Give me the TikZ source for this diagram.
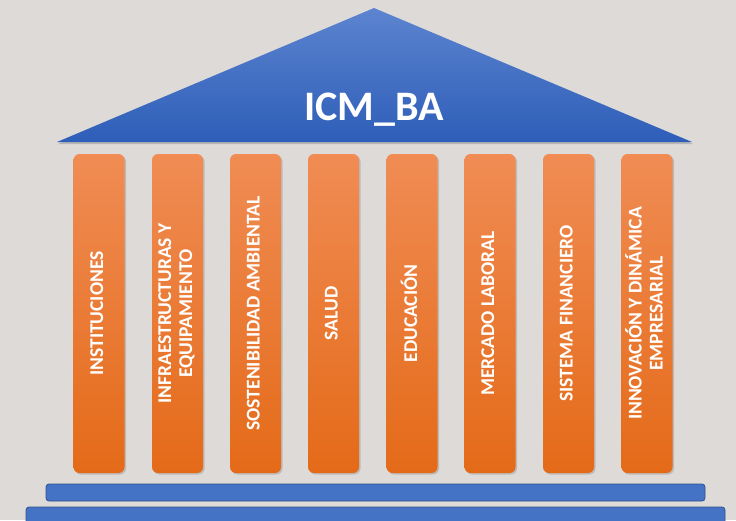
\documentclass[tikz,border=0pt]{standalone}
\usepackage{fontspec}
\setmainfont{Carlito}
\usetikzlibrary{shadows}

\definecolor{bgGrey}{RGB}{222,218,215}
\definecolor{roofTop}{RGB}{92,132,208}
\definecolor{roofBot}{RGB}{46,94,184}
\definecolor{pillarTop}{RGB}{240,140,84}
\definecolor{pillarBot}{RGB}{228,106,24}
\definecolor{baseBlue}{RGB}{68,114,196}
\definecolor{baseEdge}{RGB}{47,82,143}

\newcommand{\pillarlabel}[1]{\rotatebox{90}{\begin{tabular}{@{}c@{}}#1\end{tabular}}}

\begin{document}
\begin{tikzpicture}[x=1pt,y=-1pt,
	pillar/.style={rounded corners=6pt, top color=pillarTop, bottom color=pillarBot,
		minimum width=51pt, minimum height=319pt, inner sep=0pt, text=white,
		font=\bfseries\fontsize{19.5}{21}\selectfont,
		drop shadow={shadow xshift=1.5pt, shadow yshift=-1.5pt, opacity=0.35}},
	slab/.style={rounded corners=3pt, fill=baseBlue, draw=baseEdge, line width=0.8pt}]
		\useasboundingbox (0,0) rectangle (736,520);
		\clip (0,0) rectangle (736,520);
		\fill[bgGrey] (0,0) rectangle (736,520);
		
		%Roof
		\coordinate (apex) at (374,8);
		\coordinate (eaveL) at (57,142);
		\coordinate (eaveR) at (692,142);
		\shade[top color=roofTop, bottom color=roofBot,
			drop shadow={shadow xshift=1pt, shadow yshift=-2pt, opacity=0.4}]
			(apex) -- (eaveR) -- (eaveL) -- cycle;
		\node[text=white, font=\bfseries\fontsize{42}{50}\selectfont] (title) at (374,110) {ICM\_BA};
		
		%Pillars
		\node[pillar] (p1) at (99,313.5) {\pillarlabel{INSTITUCIONES}};
		\node[pillar] (p2) at (177.5,313.5) {\pillarlabel{INFRAESTRUCTURAS Y\\EQUIPAMIENTO}};
		\node[pillar] (p3) at (255.5,313.5) {\pillarlabel{SOSTENIBILIDAD AMBIENTAL}};
		\node[pillar] (p4) at (333.5,313.5) {\pillarlabel{SALUD}};
		\node[pillar] (p5) at (412,313.5) {\pillarlabel{EDUCACIÓN}};
		\node[pillar] (p6) at (490,313.5) {\pillarlabel{MERCADO LABORAL}};
		\node[pillar] (p7) at (568.5,313.5) {\pillarlabel{SISTEMA FINANCIERO}};
		\node[pillar] (p8) at (647,313.5) {\pillarlabel{INNOVACIÓN Y DINÁMICA\\EMPRESARIAL}};
		
		%Steps
		\draw[slab] (46,484) rectangle (705,501);
		\draw[slab] (26,507) rectangle (725,532);
	\end{tikzpicture}
\end{document}
